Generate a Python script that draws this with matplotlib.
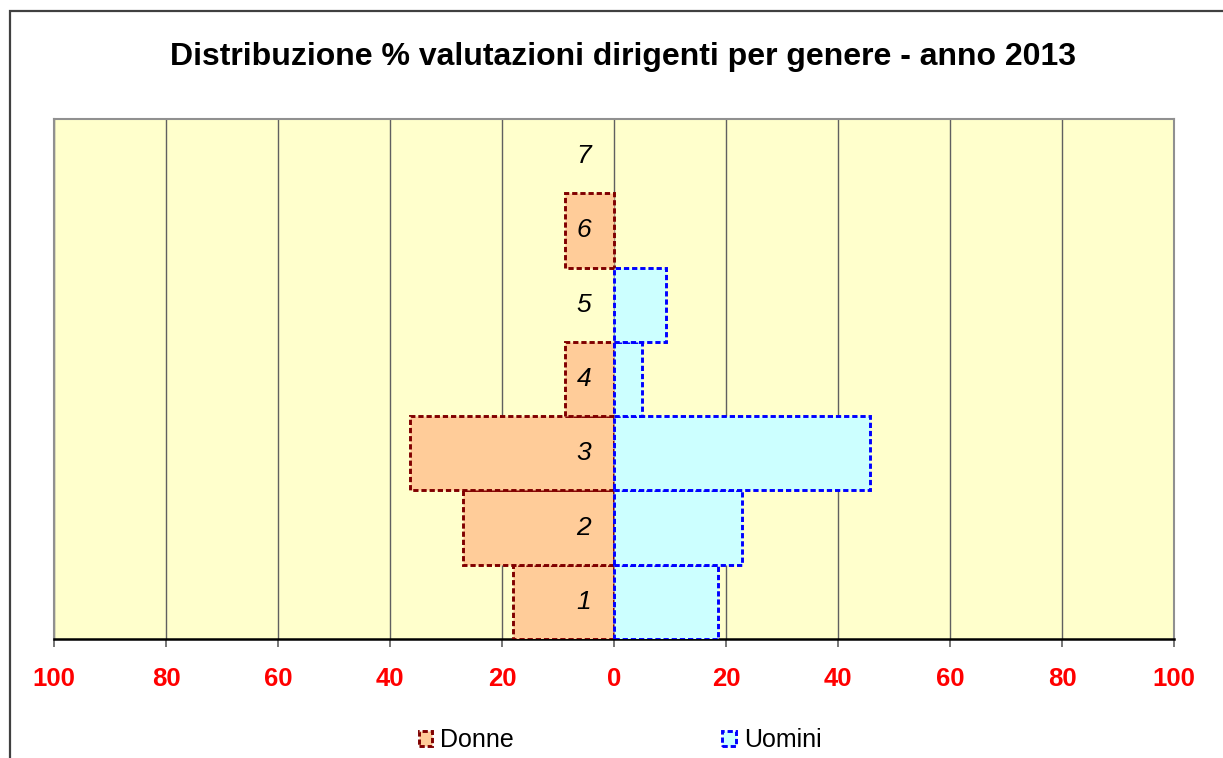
import numpy as np
import matplotlib.pyplot as plt
from matplotlib.patches import Rectangle, Patch

plt.rcParams['font.family'] = ['Liberation Sans', 'DejaVu Sans']

# data
categories = ['1', '2', '3', '4', '5', '6', '7']
donne = [18.0, 27.0, 36.4, 8.8, 0.0, 8.8, 0.0]
uomini = [18.6, 22.9, 45.7, 5.0, 9.3, 0.0, 0.0]
ticks = [-100, -80, -60, -40, -20, 0, 20, 40, 60, 80, 100]
title = 'Distribuzione % valutazioni dirigenti per genere - anno 2013'

W, H = 1223, 758
fig = plt.figure(figsize=(W/100, H/100), dpi=100)
fig.patch.set_facecolor('white')

# outer chart frame (cut off at right/bottom)
fig.add_artist(Rectangle((10/W, -0.1), 1.2, (H - 11)/H + 0.1, transform=fig.transFigure,
                         fill=False, edgecolor='#404040', linewidth=1.6))

ax = fig.add_axes([54/W, (H - 639)/H, 1120/W, 520/H])
ax.set_facecolor('#FFFFCC')

y = np.arange(len(categories))
dash = (0, (1.8, 1.0))
d_edges = ['#800000' if v > 0 else 'none' for v in donne]
u_edges = ['#0000FF' if v > 0 else 'none' for v in uomini]
ax.barh(y, -np.array(donne), height=1.0, color='#FFCC99', edgecolor=d_edges,
        linewidth=2.1, linestyle=dash, zorder=3)
ax.barh(y, uomini, height=1.0, color='#CCFFFF', edgecolor=u_edges,
        linewidth=2.1, linestyle=dash, zorder=3)

ax.set_xlim(-100, 100)
ax.set_ylim(-0.5, len(categories) - 0.5)
ax.set_xticks(ticks)
ax.set_xticklabels([str(abs(t)) for t in ticks], color='red', fontsize=18.5, fontweight='bold')
ax.tick_params(axis='x', length=6, width=1.2, color='#606060', pad=14)
ax.xaxis.grid(True, color='#606060', linewidth=1.0, zorder=1)
ax.set_axisbelow(True)

ax.set_yticks([])
for s in ['left', 'top', 'right']:
    ax.spines[s].set_color('#909090')
    ax.spines[s].set_linewidth(1.5)
ax.spines['bottom'].set_color('black')
ax.spines['bottom'].set_linewidth(1.8)

# category labels next to the zero line
for yi, lab in zip(y, categories):
    ax.text(-5.4, yi, lab, ha='center', va='center', fontsize=19,
            fontstyle='italic', zorder=5)

fig.text(623/W, (H - 57)/H, title, ha='center', va='center', fontsize=23, fontweight='bold')

handles = [Patch(facecolor='#FFCC99', edgecolor='#800000', linestyle=dash, linewidth=2.1, label='Donne'),
           Patch(facecolor='#CCFFFF', edgecolor='#0000FF', linestyle=dash, linewidth=2.1, label='Uomini')]
fig.legend(handles=handles, loc='center', bbox_to_anchor=(620/W, (H - 740)/H), ncol=2,
           frameon=False, fontsize=18, handlelength=0.55, handleheight=0.55,
           handletextpad=0.3, columnspacing=8.35)

plt.savefig('out.png', dpi=100)
